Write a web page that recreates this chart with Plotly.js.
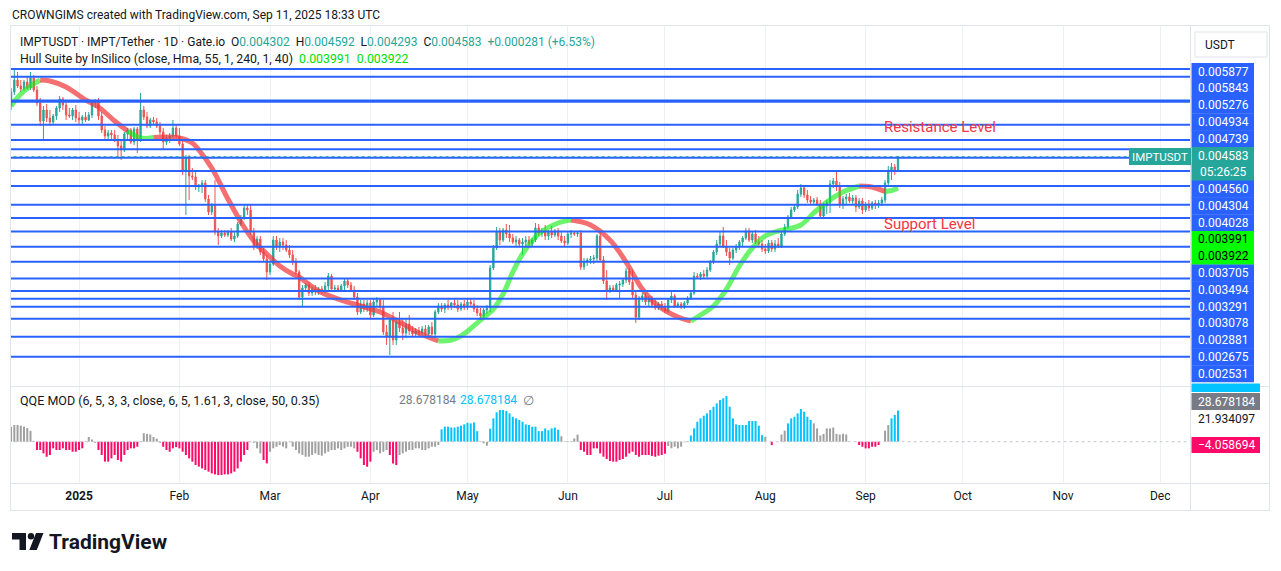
<!DOCTYPE html>
<html>
<head>
<meta charset="utf-8">
<script src="https://cdn.plot.ly/plotly-3.0.1.min.js"></script>
<style>
html,body{margin:0;padding:0;background:#ffffff;overflow:hidden;}
#chart{width:1281px;height:571px;}
</style>
</head>
<body>
<div id="chart"></div>
<script>
// ================= DATA =================
const firstDate = [2024, 11, 11]; // 11 Dec 2024, daily candles

const openP = [
0.005735,0.006101,0.006433,0.006265,0.006182,0.006377,0.006210,0.006491,0.006155,0.005812,
0.005366,0.005634,0.005438,0.005343,0.005487,0.005684,0.005915,0.005760,0.005511,0.005487,
0.005634,0.005438,0.005390,0.005463,0.005390,0.005511,0.005812,0.005838,0.005487,0.005157,
0.005023,0.005090,0.005045,0.004934,0.004805,0.004721,0.005067,0.005157,0.004891,0.005180,
0.004934,0.005634,0.005463,0.005249,0.005390,0.005343,0.005249,0.005112,0.004891,0.004978,
0.005023,0.005203,0.005023,0.004848,0.004321,0.004557,0.004208,0.004190,0.004009,0.004044,
0.004080,0.003802,0.003589,0.003702,0.003286,0.003228,0.003271,0.003242,0.003286,0.003185,
0.003228,0.003404,0.003495,0.003653,0.003621,0.003286,0.003088,0.003185,0.003008,0.002916,
0.002753,0.002852,0.003171,0.003075,0.003143,0.003102,0.003034,0.002968,0.002877,0.002753,
0.002465,0.002565,0.002599,0.002509,0.002553,0.002520,0.002553,0.002531,0.002588,0.002704,
0.002553,0.002565,0.002542,0.002588,0.002645,0.002599,0.002542,0.002465,0.002307,0.002390,
0.002337,0.002400,0.002276,0.002411,0.002432,0.002358,0.002112,0.002066,0.002226,0.002038,
0.002207,0.002149,0.002102,0.002188,0.002121,0.002093,0.002121,0.002102,0.002140,0.002093,
0.002159,0.002093,0.002307,0.002369,0.002337,0.002379,0.002358,0.002400,0.002379,0.002337,
0.002390,0.002358,0.002411,0.002390,0.002337,0.002296,0.002266,0.002327,0.002348,0.002802,
0.003061,0.003286,0.003171,0.003315,0.003257,0.003199,0.003143,0.003171,0.003116,0.003143,
0.003171,0.003116,0.003171,0.003345,0.003271,0.003300,0.003228,0.003286,0.003242,0.003300,
0.003228,0.003157,0.003130,0.003257,0.003271,0.003257,0.003271,0.002814,0.002877,0.002903,
0.002916,0.002929,0.003228,0.002903,0.002645,0.002542,0.002565,0.002542,0.002599,0.002611,
0.002657,0.002765,0.002634,0.002487,0.002256,0.002454,0.002476,0.002411,0.002443,0.002379,
0.002348,0.002390,0.002358,0.002317,0.002432,0.002476,0.002369,0.002390,0.002358,0.002400,
0.002454,0.002509,0.002704,0.002692,0.002728,0.002704,0.002777,0.002877,0.003008,0.003116,
0.003228,0.003088,0.003008,0.002929,0.003034,0.003075,0.003143,0.003199,0.003300,0.003171,
0.003257,0.003143,0.003116,0.003048,0.003021,0.003130,0.003048,0.003116,0.003088,0.003257,
0.003359,0.003511,0.003621,0.003670,0.003886,0.003991,0.003869,0.003785,0.003752,0.003785,
0.003719,0.003526,0.003686,0.003735,0.004062,0.004116,0.004026,0.003702,0.003802,0.003836,
0.003768,0.003819,0.003670,0.003768,0.003621,0.003719,0.003653,0.003735,0.003702,0.003735,
0.003785,0.004080,0.004321,0.004379,0.004302];

const highP = [
0.006210,0.006784,0.006665,0.006433,0.006433,0.006548,0.006665,0.006577,0.006265,0.005941,
0.005735,0.005786,0.005634,0.005536,0.005735,0.005994,0.005968,0.005838,0.005684,0.005684,
0.005760,0.005585,0.005511,0.005585,0.005585,0.005889,0.005915,0.005941,0.005585,0.005249,
0.005157,0.005157,0.005157,0.005045,0.004934,0.005112,0.005203,0.005203,0.005226,0.005226,
0.006074,0.005735,0.005585,0.005438,0.005463,0.005438,0.005343,0.005203,0.005045,0.005090,
0.005390,0.005272,0.005203,0.004934,0.004617,0.004617,0.004360,0.004321,0.004062,0.004134,
0.004134,0.003869,0.003735,0.004134,0.003345,0.003315,0.003315,0.003315,0.003345,0.003286,
0.003434,0.003542,0.003702,0.003702,0.003702,0.003345,0.003228,0.003228,0.003061,0.002968,
0.002877,0.003228,0.003228,0.003199,0.003199,0.003171,0.003102,0.003034,0.002929,0.002777,
0.002599,0.002622,0.002634,0.002588,0.002599,0.002576,0.002588,0.002634,0.002740,0.002728,
0.002599,0.002599,0.002611,0.002681,0.002681,0.002634,0.002588,0.002509,0.002432,0.002432,
0.002432,0.002432,0.002454,0.002465,0.002454,0.002432,0.002178,0.002246,0.002307,0.002226,
0.002307,0.002246,0.002246,0.002276,0.002168,0.002149,0.002159,0.002168,0.002178,0.002178,
0.002207,0.002327,0.002400,0.002400,0.002400,0.002432,0.002411,0.002454,0.002432,0.002411,
0.002432,0.002454,0.002443,0.002432,0.002379,0.002348,0.002348,0.002379,0.002839,0.003102,
0.003359,0.003345,0.003345,0.003404,0.003389,0.003257,0.003228,0.003199,0.003199,0.003228,
0.003228,0.003199,0.003419,0.003404,0.003345,0.003389,0.003315,0.003374,0.003330,0.003345,
0.003286,0.003228,0.003286,0.003315,0.003300,0.003286,0.003315,0.002929,0.002929,0.002955,
0.002968,0.003257,0.003300,0.002955,0.002777,0.002599,0.002599,0.002622,0.002645,0.002681,
0.002802,0.002802,0.002777,0.002542,0.002476,0.002509,0.002509,0.002476,0.002476,0.002432,
0.002411,0.002421,0.002400,0.002454,0.002520,0.002498,0.002411,0.002411,0.002421,0.002476,
0.002542,0.002753,0.002740,0.002753,0.002777,0.002814,0.002903,0.003034,0.003171,0.003286,
0.003359,0.003171,0.003061,0.003061,0.003116,0.003171,0.003228,0.003345,0.003345,0.003286,
0.003315,0.003228,0.003171,0.003116,0.003171,0.003171,0.003171,0.003199,0.003286,0.003404,
0.003542,0.003670,0.003702,0.003956,0.004062,0.004044,0.003956,0.003852,0.003819,0.003836,
0.003785,0.003735,0.003785,0.004134,0.004171,0.004283,0.004098,0.003852,0.003886,0.003904,
0.003869,0.003869,0.003819,0.003819,0.003752,0.003785,0.003768,0.003785,0.003785,0.003836,
0.004134,0.004399,0.004458,0.004438,0.004592];

const lowP = [
0.005634,0.006020,0.006210,0.006101,0.006128,0.006155,0.006155,0.006101,0.005735,0.005249,
0.004934,0.005343,0.005249,0.005272,0.005390,0.005585,0.005634,0.005390,0.005438,0.005390,
0.005343,0.005296,0.005296,0.005343,0.005366,0.005438,0.005684,0.005390,0.005090,0.004934,
0.004934,0.004956,0.004891,0.004577,0.004517,0.004680,0.004912,0.004848,0.004826,0.004659,
0.004891,0.005390,0.005203,0.005203,0.005272,0.005203,0.005045,0.004721,0.004826,0.004869,
0.004978,0.004978,0.004805,0.004227,0.003542,0.003785,0.004134,0.003956,0.003921,0.003904,
0.003752,0.003542,0.003542,0.003242,0.003102,0.003199,0.003214,0.003214,0.003157,0.003143,
0.003199,0.003374,0.003464,0.003542,0.003242,0.003034,0.003048,0.002968,0.002877,0.002657,
0.002716,0.002827,0.003034,0.003008,0.003034,0.003008,0.002929,0.002839,0.002716,0.002432,
0.002358,0.002520,0.002476,0.002476,0.002487,0.002487,0.002498,0.002509,0.002542,0.002520,
0.002520,0.002531,0.002520,0.002542,0.002565,0.002520,0.002432,0.002276,0.002286,0.002307,
0.002307,0.002246,0.002256,0.002369,0.002327,0.002084,0.001994,0.001907,0.001994,0.001994,
0.002112,0.002038,0.002056,0.002084,0.002066,0.002075,0.002075,0.002084,0.002075,0.002075,
0.002056,0.002075,0.002286,0.002307,0.002296,0.002327,0.002327,0.002348,0.002307,0.002317,
0.002327,0.002327,0.002369,0.002307,0.002266,0.002226,0.002246,0.002286,0.002307,0.002777,
0.003034,0.003102,0.003143,0.003199,0.003143,0.003116,0.003088,0.003075,0.002968,0.003088,
0.003061,0.003088,0.003143,0.003228,0.003214,0.003171,0.003171,0.003199,0.003214,0.003171,
0.003130,0.003088,0.003102,0.003199,0.003228,0.003214,0.002777,0.002777,0.002827,0.002852,
0.002852,0.002877,0.002877,0.002611,0.002432,0.002509,0.002520,0.002531,0.002454,0.002576,
0.002622,0.002599,0.002454,0.002197,0.002226,0.002411,0.002379,0.002369,0.002348,0.002327,
0.002327,0.002327,0.002296,0.002296,0.002400,0.002348,0.002348,0.002337,0.002337,0.002379,
0.002432,0.002487,0.002669,0.002657,0.002681,0.002681,0.002753,0.002852,0.002968,0.003075,
0.003061,0.002955,0.002839,0.002903,0.002994,0.003034,0.003088,0.003171,0.003143,0.003130,
0.003116,0.003088,0.003008,0.002981,0.002994,0.003008,0.003008,0.003061,0.003061,0.003228,
0.003330,0.003480,0.003589,0.003637,0.003836,0.003819,0.003735,0.003719,0.003719,0.003686,
0.003480,0.003495,0.003558,0.003574,0.003991,0.003939,0.003653,0.003637,0.003702,0.003735,
0.003719,0.003589,0.003637,0.003558,0.003589,0.003605,0.003621,0.003637,0.003653,0.003686,
0.003735,0.004044,0.004134,0.004227,0.004293];

const closeP = [
0.006101,0.006433,0.006265,0.006182,0.006377,0.006210,0.006491,0.006155,0.005812,0.005366,
0.005634,0.005438,0.005343,0.005487,0.005684,0.005915,0.005760,0.005511,0.005487,0.005634,
0.005438,0.005390,0.005463,0.005390,0.005511,0.005812,0.005838,0.005487,0.005157,0.005023,
0.005090,0.005045,0.004934,0.004805,0.004721,0.005067,0.005157,0.004891,0.005180,0.004934,
0.005634,0.005463,0.005249,0.005390,0.005343,0.005249,0.005112,0.004891,0.004978,0.005023,
0.005203,0.005023,0.004848,0.004321,0.004557,0.004208,0.004190,0.004009,0.004044,0.004080,
0.003802,0.003589,0.003702,0.003286,0.003228,0.003271,0.003242,0.003286,0.003185,0.003228,
0.003404,0.003495,0.003653,0.003621,0.003286,0.003088,0.003185,0.003008,0.002916,0.002753,
0.002852,0.003171,0.003075,0.003143,0.003102,0.003034,0.002968,0.002877,0.002753,0.002465,
0.002565,0.002599,0.002509,0.002553,0.002520,0.002553,0.002531,0.002588,0.002704,0.002553,
0.002565,0.002542,0.002588,0.002645,0.002599,0.002542,0.002465,0.002307,0.002390,0.002337,
0.002400,0.002276,0.002411,0.002432,0.002358,0.002112,0.002066,0.002226,0.002038,0.002207,
0.002149,0.002102,0.002188,0.002121,0.002093,0.002121,0.002102,0.002140,0.002093,0.002159,
0.002093,0.002307,0.002369,0.002337,0.002379,0.002358,0.002400,0.002379,0.002337,0.002390,
0.002358,0.002411,0.002390,0.002337,0.002296,0.002266,0.002327,0.002348,0.002802,0.003061,
0.003286,0.003171,0.003315,0.003257,0.003199,0.003143,0.003171,0.003116,0.003143,0.003171,
0.003116,0.003171,0.003345,0.003271,0.003300,0.003228,0.003286,0.003242,0.003300,0.003228,
0.003157,0.003130,0.003257,0.003271,0.003257,0.003271,0.002814,0.002877,0.002903,0.002916,
0.002929,0.003228,0.002903,0.002645,0.002542,0.002565,0.002542,0.002599,0.002611,0.002657,
0.002765,0.002634,0.002487,0.002256,0.002454,0.002476,0.002411,0.002443,0.002379,0.002348,
0.002390,0.002358,0.002317,0.002432,0.002476,0.002369,0.002390,0.002358,0.002400,0.002454,
0.002509,0.002704,0.002692,0.002728,0.002704,0.002777,0.002877,0.003008,0.003116,0.003228,
0.003088,0.003008,0.002929,0.003034,0.003075,0.003143,0.003199,0.003300,0.003171,0.003257,
0.003143,0.003116,0.003048,0.003021,0.003130,0.003048,0.003116,0.003088,0.003257,0.003359,
0.003511,0.003621,0.003670,0.003886,0.003991,0.003869,0.003785,0.003752,0.003785,0.003719,
0.003526,0.003686,0.003735,0.004062,0.004116,0.004026,0.003702,0.003802,0.003836,0.003768,
0.003819,0.003670,0.003768,0.003621,0.003719,0.003653,0.003735,0.003702,0.003735,0.003785,
0.004080,0.004321,0.004379,0.004302,0.004583];

// Hull Suite (HMA 55) centre line, read at turning / key points
const hullDates = ['2024-12-11','2024-12-14','2024-12-17','2024-12-20','2024-12-23','2024-12-28',
'2025-01-03','2025-01-07','2025-01-12','2025-01-16','2025-01-20','2025-01-24','2025-01-27',
'2025-02-01','2025-02-05','2025-02-07','2025-02-11','2025-02-16','2025-02-20','2025-02-24','2025-02-28',
'2025-03-04','2025-03-08','2025-03-10','2025-03-16','2025-03-23','2025-03-29',
'2025-04-04','2025-04-10','2025-04-16','2025-04-22','2025-04-26','2025-04-29',
'2025-05-05','2025-05-09','2025-05-12','2025-05-15','2025-05-18','2025-05-23','2025-05-29',
'2025-06-02','2025-06-08','2025-06-14','2025-06-19','2025-06-24','2025-06-29',
'2025-07-05','2025-07-09','2025-07-12','2025-07-16','2025-07-20','2025-07-24','2025-07-28',
'2025-08-01','2025-08-05','2025-08-08','2025-08-12','2025-08-16','2025-08-20','2025-08-25','2025-08-30',
'2025-09-02','2025-09-04','2025-09-07','2025-09-09','2025-09-11'];
const hullVals = [0.005735,0.006047,0.006265,0.006433,0.006405,0.006237,
0.005889,0.005710,0.005366,0.005135,0.004978,0.004990,0.005001,
0.004978,0.004869,0.004721,0.004360,0.003802,0.003434,0.003157,0.002981,
0.002827,0.002728,0.002692,0.002531,0.002432,0.002369,
0.002307,0.002207,0.002102,0.002029,0.002038,0.002075,
0.002226,0.002337,0.002498,0.002753,0.002981,0.003257,0.003419,
0.003464,0.003389,0.003171,0.002877,0.002553,0.002369,
0.002256,0.002216,0.002276,0.002369,0.002553,0.002827,0.003061,
0.003228,0.003300,0.003330,0.003389,0.003574,0.003752,0.003921,0.004026,
0.004017,0.003991,0.003930,0.003947,0.003991];
// trend of each hull segment (u = rising/green, d = falling/red), run-length
const hullTrendRuns = [['u',3],['d',6],['u',2],['d',19],['u',10],['d',7],['u',13],['d',3],['u',3]];
const hullLegend = ['0.003991','0.003922'];

// QQE MOD histogram
const qqeVals = [13.6,15.3,15.3,14.7,13.8,12.5,10.0,0.8,
-7.6,-7.6,-10.7,-13.8,-12.2,-6.1,-7.6,-7.6,-6.1,-7.6,-7.6,-9.2,-9.2,-7.6,-6.1,
0.5,4.3,2.0,-1.0,
-7.6,-12.2,-18.3,-18.3,-15.3,-12.2,-16.8,-18.3,-12.2,-7.6,-6.1,-6.1,-4.6,
0.5,7.8,7.2,6.6,4.3,2.8,-1.0,
-4.6,-7.6,-9.2,-6.1,-5.0,-6.1,-9.2,-12.2,-15.3,-18.3,-21.4,-22.9,-24.5,-26.0,-27.5,-29.1,-30.0,-30.6,-30.6,-30.0,-30.0,-29.1,-27.5,-24.5,-18.3,-12.2,-7.6,
-0.5,-1.0,-6.1,-10.7,
-16.8,-19.9,
-9.2,-6.1,-4.6,-3.1,-4.6,-6.1,-0.5,-4.6,-7.6,-10.7,-12.2,-13.8,-13.8,-12.2,-10.7,-12.2,-12.8,-10.7,-9.2,-7.6,-7.6,-6.1,-7.6,-6.1,-4.6,-4.6,-6.1,
-9.2,-15.3,-21.4,-23.0,-18.3,
-9.2,-7.6,-10.7,-9.2,-7.6,
-12.2,-20.0,-21.4,
-12.2,-10.7,-9.2,-7.6,-7.6,-6.1,-6.1,-7.6,-7.6,-6.1,-4.6,-4.6,-3.1,
11.3,13.8,13.8,13.0,13.0,13.8,14.7,15.9,17.4,16.8,17.7,9.7,
0.5,-1.5,-3.7,
12.0,21.4,27.0,29.1,29.1,28.2,26.0,22.9,21.4,19.9,18.3,15.9,15.3,13.8,13.8,9.7,9.7,12.2,10.5,12.2,13.0,11.0,
5.0,0.5,0.5,0.5,3.0,6.5,
-7.6,-9.2,-12.2,-12.2,-6.1,-6.1,-10.7,-13.8,-15.9,-17.7,-18.3,-18.3,-16.8,-15.9,-13.8,-10.7,-9.2,-12.2,-13.8,-12.2,-12.2,-12.2,-13.0,-13.8,-12.8,-12.2,-11.0,
-4.0,-6.1,-4.6,-6.1,-4.6,-0.5,0.5,
5.7,12.2,18.3,21.4,23.8,26.0,29.1,32.1,35.2,38.2,39.8,41.9,32.1,21.4,15.9,15.3,15.3,15.3,19.0,19.0,19.0,14.7,6.0,
4.5,0.0,
-3.1,
0.0,0.0,6.6,10.2,
16.8,21.4,22.9,26.0,30.0,27.5,22.9,19.9,
16.8,12.2,5.7,7.2,12.2,12.2,13.0,7.2,6.6,7.2,6.6,0.0,0.0,0.0,
-3.1,-4.6,-6.1,-6.1,-4.6,-4.6,-3.1,
0.0,10.2,15.3,
21.4,24.5,28.678184];
// colour state per bar (b = blue/up, p = pink/down, g = grey/neutral), run-length
const qqeColorRuns = [['g',8],['p',15],['g',4],['p',13],['g',7],['p',27],['g',4],['p',2],['g',27],
['p',5],['g',5],['p',3],['g',13],['b',12],['g',3],['b',22],['g',6],['p',27],['g',7],['b',23],
['g',2],['p',1],['g',4],['b',8],['g',14],['p',7],['g',3],['b',3]];
const qqeLegend = ['28.678184','28.678184'];
const qqeAxisTexts = ['28.678184','21.934097','\u22124.058694'];

// Horizontal drawn levels (price)
const levelPrices = [0.006754,0.006528,0.005877,0.005843,0.005276,0.004934,0.004739,0.004560,
0.004304,0.004028,0.003705,0.003494,0.003291,0.003078,0.002881,0.002675,0.002531,
0.002446,0.002361,0.002239,0.002068,0.001893];

// price-scale label column (top to bottom) and its kinds
const axisLabelTexts = ['0.005877','0.005843','0.005276','0.004934','0.004739','0.004583','05:26:25',
'0.004560','0.004304','0.004028','0.003991','0.003922','0.003705','0.003494','0.003291','0.003078',
'0.002881','0.002675','0.002531'];
const axisLabelKinds = ['lv','lv','lv','lv','lv','last','last','lv','lv','lv','hull','hull',
'lv','lv','lv','lv','lv','lv','lv'];

const monthTicks = ['2025-01-01','2025-02-01','2025-03-01','2025-04-01','2025-05-01','2025-06-01',
'2025-07-01','2025-08-01','2025-09-01','2025-10-01','2025-11-01','2025-12-01'];
const monthLabels = ['<b>2025</b>','Feb','Mar','Apr','May','Jun','Jul','Aug','Sep','Oct','Nov','Dec'];

// ================= BUILD =================
const FONT = 'Roboto, "Liberation Sans", Arial, sans-serif';
const W = 1281, H = 571, ML = 10, MR = 91, MT = 25, MB = 88;
const PW = W - ML - MR, PH = H - MT - MB;
const px = x => (x - ML) / PW;
const py = y => (H - MB - y) / PH;

const dates = openP.map((_, i) => new Date(Date.UTC(firstDate[0], firstDate[1], firstDate[2] + i)).toISOString().slice(0, 10));
const last = closeP.length - 1;
const XR = ['2024-12-10 16:00', '2025-12-10 05:00'];
const XL = ['2024-11-01', '2026-01-31'];

const traces = [];

traces.push({
  type: 'candlestick', x: dates, open: openP, high: highP, low: lowP, close: closeP,
  xaxis: 'x', yaxis: 'y',
  increasing: {line: {color: '#26a69a', width: 1}, fillcolor: '#26a69a'},
  decreasing: {line: {color: '#ef5350', width: 1}, fillcolor: '#ef5350'},
  whiskerwidth: 0, hoverinfo: 'skip', showlegend: false
});

// hull segments
const hullTrend = [];
hullTrendRuns.forEach(([c, n]) => { for (let k = 0; k < n; k++) hullTrend.push(c); });
const segs = [];
let cur = null;
for (let k = 0; k < hullDates.length - 1; k++) {
  const up = hullTrend[k] === 'u';
  if (!cur || cur.up !== up) { cur = {up: up, x: [hullDates[k]], y: [hullVals[k]]}; segs.push(cur); }
  cur.x.push(hullDates[k + 1]); cur.y.push(hullVals[k + 1]);
}
segs.forEach(s => traces.push({
  type: 'scatter', mode: 'lines', x: s.x, y: s.y, xaxis: 'x', yaxis: 'y',
  line: {color: s.up ? 'rgba(20,235,20,0.62)' : 'rgba(240,55,60,0.72)', width: 5, shape: 'spline', smoothing: 1},
  hoverinfo: 'skip', showlegend: false
}));

// horizontal levels
levelPrices.forEach(p => traces.push({
  type: 'scatter', mode: 'lines', x: XL, y: [p, p], xaxis: 'x', yaxis: 'y',
  line: {color: '#2962ff', width: 2}, hoverinfo: 'skip', showlegend: false
}));
// last price dotted line
traces.push({
  type: 'scatter', mode: 'lines', x: XL, y: [closeP[last], closeP[last]], xaxis: 'x', yaxis: 'y',
  line: {color: '#26a69a', width: 1, dash: 'dot'}, hoverinfo: 'skip', showlegend: false
});

// QQE histogram
const qqeCodes = [];
qqeColorRuns.forEach(([c, n]) => { for (let k = 0; k < n; k++) qqeCodes.push(c); });
const qqeColorMap = {b: '#00c3ff', p: '#ff0a68', g: '#a0a0a0'};
traces.push({
  type: 'bar', x: dates, y: qqeVals, xaxis: 'x', yaxis: 'y2',
  width: 0.62 * 86400000,
  marker: {color: qqeVals.map((v, i) => qqeColorMap[qqeCodes[i]] || '#a0a0a0'), line: {width: 0}},
  hoverinfo: 'skip', showlegend: false
});
traces.push({
  type: 'scatter', mode: 'lines', x: XL, y: [0, 0], xaxis: 'x', yaxis: 'y2',
  line: {color: '#c5c8d0', width: 1, dash: 'dot'}, hoverinfo: 'skip', showlegend: false
});

// ---------- layout decorations ----------
const shapes = [];
const annotations = [];
const BORDER = '#e0e3eb';
function hline(y, x0, x1, color) { shapes.push({type: 'line', xref: 'paper', yref: 'paper', x0: px(x0), x1: px(x1), y0: py(y), y1: py(y), line: {color: color || BORDER, width: 1}}); }
function vline(x, y0, y1, color) { shapes.push({type: 'line', xref: 'paper', yref: 'paper', x0: px(x), x1: px(x), y0: py(y0), y1: py(y1), line: {color: color || BORDER, width: 1}}); }
function rect(x0, y0, x1, y1, fill, line) { shapes.push({type: 'rect', xref: 'paper', yref: 'paper', x0: px(x0), x1: px(x1), y0: py(y1), y1: py(y0), fillcolor: fill, line: line || {width: 0}, layer: 'above'}); }
function ann(text, x, y, o) {
  o = o || {};
  annotations.push({xref: 'paper', yref: 'paper', x: px(x), y: py(y), text: text, showarrow: false,
    xanchor: o.xanchor || 'left', yanchor: 'middle',
    font: {family: FONT, size: o.size || 12, color: o.color || '#131722'}});
}

// frame
hline(25.5, 10, 1270); hline(510.5, 10, 1270); hline(483.5, 10, 1270); hline(386.5, 10, 1270);
vline(10.5, 25, 510); vline(1269.5, 25, 510); vline(1190.5, 25, 510);

// price-scale label column
const SLOT0 = 71.7, SLOT = 16.78;
const kindFill = {lv: '#2962ff', last: '#26a69a', hull: '#00ff00'};
const kindText = {lv: '#ffffff', last: '#ffffff', hull: '#000000'};
axisLabelTexts.forEach((t, k) => {
  const c = SLOT0 + SLOT * k;
  const kd = axisLabelKinds[k];
  rect(1191.5, c - SLOT / 2 - 0.2, 1254, c + SLOT / 2 + 0.2, kindFill[kd]);
  ann(t, 1223, c, {xanchor: 'center', color: kindText[kd], size: 12});
});
// symbol label on last price line
rect(1129, 148, 1191, 165, '#26a69a');
ann('IMPTUSDT', 1160, 156.5, {xanchor: 'center', color: '#ffffff', size: 11.5});
// currency box
rect(1195, 32, 1267, 57, '#ffffff', {color: BORDER, width: 1});
ann('USDT', 1203, 44.5, {size: 12});

// QQE scale labels
rect(1191.5, 383.5, 1260, 392, '#00c3ff');
rect(1191.5, 393, 1260, 410, '#787b86');
ann(qqeAxisTexts[0], 1226, 401.5, {xanchor: 'center', color: '#ffffff'});
ann(qqeAxisTexts[1], 1226, 418.5, {xanchor: 'center', color: '#131722'});
rect(1191.5, 437, 1260, 453, '#ff0a68');
ann(qqeAxisTexts[2], 1226, 445, {xanchor: 'center', color: '#ffffff'});

// header & legends
ann('CROWNGIMS created with TradingView.com, Sep 11, 2025 18:33 UTC', 10, 15, {size: 12});
const T = '#26a69a', S = '\u00a0\u00a0';
const chg = closeP[last] - closeP[last - 1];
const pct = chg / closeP[last - 1] * 100;
const f6 = v => v.toFixed(6);
ann('IMPTUSDT \u00b7 IMPT/Tether \u00b7 1D \u00b7 Gate.io' + S +
    'O<span style="color:' + T + '">' + f6(openP[last]) + '</span>' + S +
    'H<span style="color:' + T + '">' + f6(highP[last]) + '</span>' + S +
    'L<span style="color:' + T + '">' + f6(lowP[last]) + '</span>' + S +
    'C<span style="color:' + T + '">' + f6(closeP[last]) + '</span>' + S +
    '<span style="color:' + T + '">' + (chg >= 0 ? '+' : '') + f6(chg) + ' (' + (pct >= 0 ? '+' : '') + pct.toFixed(2) + '%)</span>',
    18, 42, {size: 12});
ann('Hull Suite by InSilico (close, Hma, 55, 1, 240, 1, 40)' + S +
    '<span style="color:#00e000">' + hullLegend[0] + '</span>' + S +
    '<span style="color:#00e000">' + hullLegend[1] + '</span>', 18, 59, {size: 12.3});
ann('QQE MOD (6, 5, 3, 3, close, 6, 5, 1.61, 3, close, 50, 0.35)', 18, 400, {size: 12.5});
ann(qqeLegend[0], 397, 400, {size: 12, color: '#787b86'});
ann(qqeLegend[1], 458, 400, {size: 12, color: '#00c3ff'});
ann('\u2205', 521, 400, {size: 12.5, color: '#787b86'});

// chart notes
ann('Resistance Level', 882, 127, {size: 15, color: '#f23645'});
ann('Support Level', 882, 223.5, {size: 15, color: '#f23645'});

// TradingView logo
function poly(pts) { return 'M ' + pts.map(p => px(p[0]) + ',' + py(p[1])).join(' L ') + ' Z'; }
shapes.push({type: 'path', xref: 'paper', yref: 'paper', path: poly([[12, 533], [26, 533], [26, 550], [19.5, 550], [19.5, 539.5], [12, 539.5]]), fillcolor: '#131722', line: {width: 0}});
shapes.push({type: 'circle', xref: 'paper', yref: 'paper', x0: px(27.8), x1: px(34.2), y0: py(539.5), y1: py(533.1), fillcolor: '#131722', line: {width: 0}});
shapes.push({type: 'path', xref: 'paper', yref: 'paper', path: poly([[36, 533], [43.5, 533], [36.8, 550], [29.3, 550]]), fillcolor: '#131722', line: {width: 0}});
ann('<b>TradingView</b>', 47, 541.5, {size: 21, color: '#131722'});

const layout = {
  width: W, height: H,
  margin: {l: ML, r: MR, t: MT, b: MB, pad: 0},
  paper_bgcolor: '#ffffff', plot_bgcolor: '#ffffff',
  showlegend: false, hovermode: false,
  boxgap: 0.3, boxgroupgap: 0.42,
  xaxis: {
    type: 'date', range: XR, anchor: 'y2', domain: [0, 1],
    rangeslider: {visible: false},
    tickmode: 'array', tickvals: monthTicks, ticktext: monthLabels,
    showgrid: true, gridcolor: '#eef0f4', gridwidth: 1,
    ticks: '', ticklabelstandoff: 4,
    tickfont: {family: FONT, size: 12, color: '#131722'},
    showline: false, zeroline: false, fixedrange: true
  },
  yaxis: {
    type: 'log', range: [-2.77909, -2.08600], domain: [97 / PH, 1], anchor: 'x',
    showticklabels: false, showgrid: false, zeroline: false, showline: false, ticks: '', fixedrange: true
  },
  yaxis2: {
    range: [-37.9, 50.2], domain: [0, 96 / PH], anchor: 'x',
    showticklabels: false, showgrid: false, zeroline: false, showline: false, ticks: '', fixedrange: true
  },
  shapes: shapes,
  annotations: annotations
};

Plotly.newPlot('chart', traces, layout, {staticPlot: true, displayModeBar: false});
</script>
</body>
</html>
